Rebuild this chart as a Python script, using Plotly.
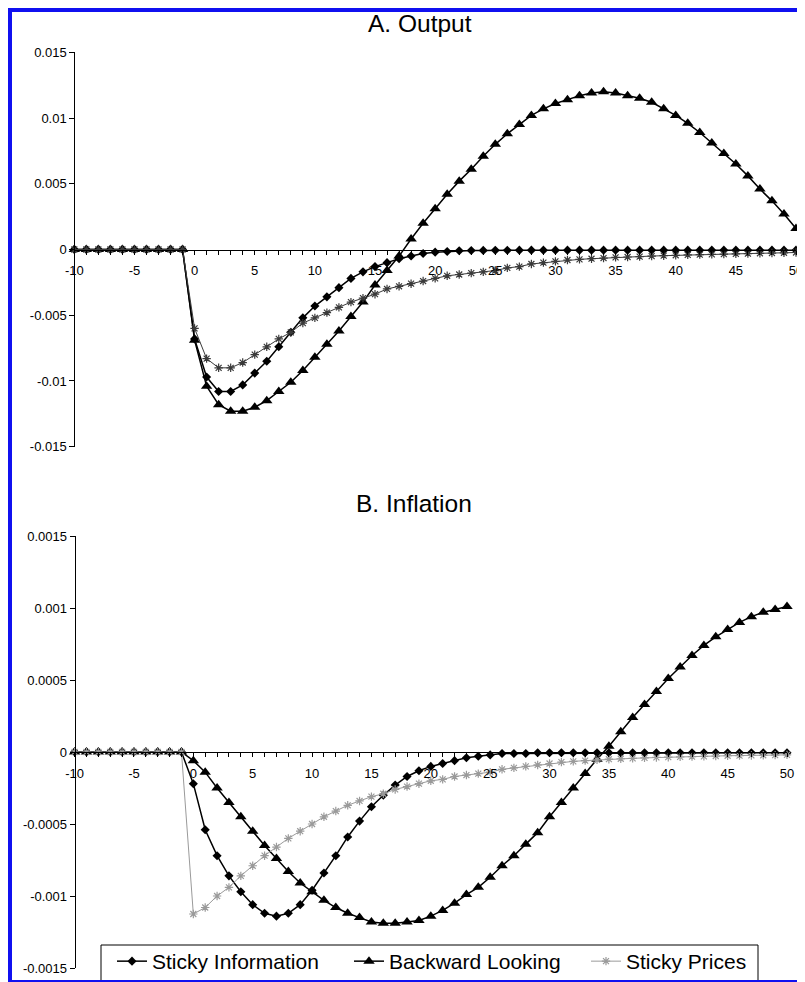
import plotly.graph_objects as go

# ---------------- data ----------------
periods = list(range(-10, 51))
pre_shock = [0.0] * 10

output_sticky_info = pre_shock + [
    -0.0068, -0.0097, -0.0108, -0.0108, -0.0103, -0.0094, -0.0085, -0.0074, -0.0063, -0.0052,
    -0.0043, -0.0036, -0.0029, -0.0022, -0.0017, -0.0013, -0.0010, -0.0007, -0.0005, -0.0003,
    -0.0002, -0.00015, -0.0001, -0.00008, -0.00007, -0.00006, -0.00006, -0.00005, -0.00005, -0.00005,
    -0.00005, -0.00005, -0.00005, -0.00005, -0.00005, -0.00005, -0.00005, -0.00005, -0.00005, -0.00005,
    -0.00005, -0.00005, -0.00005, -0.00005, -0.00005, -0.00005, -0.00005, -0.00005, -0.00005, -0.00005,
    -0.00005]

output_backward = pre_shock + [
    -0.0069, -0.0104, -0.0118, -0.0123, -0.0123, -0.0120, -0.0115, -0.0108, -0.0101, -0.0092,
    -0.0082, -0.0072, -0.0062, -0.0051, -0.0040, -0.0027, -0.0016, -0.0005, 0.0008, 0.0020,
    0.0031, 0.0042, 0.0052, 0.0061, 0.0071, 0.0080, 0.0088, 0.0095, 0.0102, 0.0107,
    0.0111, 0.0114, 0.0117, 0.0119, 0.0120, 0.0119, 0.0117, 0.0115, 0.0112, 0.0107,
    0.0102, 0.0096, 0.0089, 0.0081, 0.0073, 0.0065, 0.0056, 0.0046, 0.0037, 0.0027,
    0.0016]

output_sticky_prices = pre_shock + [
    -0.0060, -0.0083, -0.0090, -0.0090, -0.0086, -0.0080, -0.0074, -0.0068, -0.0063, -0.0056,
    -0.0052, -0.0048, -0.0044, -0.0040, -0.0037, -0.0034, -0.0030, -0.0028, -0.0026, -0.0024,
    -0.0022, -0.0020, -0.0019, -0.0018, -0.0017, -0.0016, -0.0014, -0.0013, -0.0011, -0.0010,
    -0.0009, -0.0008, -0.00075, -0.0007, -0.00065, -0.0006, -0.00057, -0.00054, -0.0005, -0.00047,
    -0.00044, -0.00041, -0.00039, -0.00037, -0.00035, -0.00033, -0.00031, -0.00029, -0.00027, -0.00025,
    -0.00023]

inflation_sticky_info = pre_shock + [
    -0.00022, -0.00054, -0.00072, -0.00086, -0.00097, -0.00106, -0.00112, -0.00114, -0.00112, -0.00106,
    -0.00096, -0.00084, -0.00072, -0.00059, -0.00048, -0.00038, -0.00030, -0.00023, -0.00017, -0.00013,
    -0.00010, -0.00008, -0.00006, -0.00004, -0.00003, -0.00002, -0.00001, -0.00001, -0.00001, -0.000005,
    -0.000005, -0.000005, -0.000005, -0.000005, -0.000005, -0.000005, -0.000005, -0.000005, -0.000005, -0.000005,
    -0.000005, -0.000005, -0.000005, -0.000005, -0.000005, -0.000005, -0.000005, -0.000005, -0.000005, -0.000005,
    -0.000005]

inflation_backward = pre_shock + [
    -0.00006, -0.00014, -0.00025, -0.00035, -0.00045, -0.00055, -0.00065, -0.00074, -0.00083, -0.00091,
    -0.00097, -0.00103, -0.00108, -0.00112, -0.00115, -0.00118, -0.00119, -0.00119, -0.00118, -0.00117,
    -0.00114, -0.00110, -0.00105, -0.00099, -0.00094, -0.00087, -0.00079, -0.00072, -0.00064, -0.00056,
    -0.00045, -0.00035, -0.00025, -0.00015, -0.00005, 0.00004, 0.00014, 0.00024, 0.00033, 0.00042,
    0.00051, 0.00059, 0.00067, 0.00074, 0.00080, 0.00085, 0.00090, 0.00094, 0.00097, 0.00099,
    0.00101]

inflation_sticky_prices = pre_shock + [
    -0.001125, -0.00108, -0.00100, -0.00094, -0.00086, -0.00079, -0.00072, -0.00066, -0.00060, -0.00055,
    -0.00050, -0.00045, -0.00041, -0.00037, -0.00034, -0.00031, -0.00029, -0.00026, -0.00024, -0.00022,
    -0.00020, -0.00019, -0.00017, -0.00016, -0.00015, -0.00014, -0.00012, -0.00011, -0.00010, -0.00009,
    -0.00008, -0.00007, -0.000065, -0.00006, -0.000055, -0.00005, -0.000047, -0.000044, -0.000041, -0.000038,
    -0.000036, -0.000034, -0.000032, -0.00003, -0.000028, -0.000026, -0.000025, -0.000024, -0.000023, -0.000022,
    -0.00002]

series_names = ["Sticky Information", "Backward Looking", "Sticky Prices"]
panel_titles = ["A. Output", "B. Inflation"]

x_tickvals = list(range(-10, 51))
x_ticktext = [str(v) if v % 5 == 0 else "" for v in x_tickvals]
yA_tickvals = [-0.015, -0.01, -0.005, 0, 0.005, 0.01, 0.015]
yA_ticktext = ["-0.015", "-0.01", "-0.005", "0", "0.005", "0.01", "0.015"]
yB_tickvals = [-0.0015, -0.001, -0.0005, 0, 0.0005, 0.001, 0.0015]
yB_ticktext = ["-0.0015", "-0.001", "-0.0005", "0", "0.0005", "0.001", "0.0015"]

# ---------------- layout geometry ----------------
# The page body keeps its default 8px margin; positions below are page pixels.
OFF = 8
W, H = 805 - OFF, 982 - OFF
FONT = "Liberation Sans, Arial, sans-serif"
BLUE = "#1010F0"

def px_x(p):
    return (p - OFF) / W

def px_y(p):
    return 1 - (p - OFF) / H

A_x = [px_x(74.3), px_x(796)]
A_y = [px_y(446.7), px_y(52.3)]
B_x = [px_x(74.6), px_x(787)]
B_y = [px_y(968), px_y(536)]

fig = go.Figure()

def add_panel(xa, ya, si, bl, sp, sp_color, sp_marker_color, show):
    fig.add_trace(go.Scatter(
        x=periods, y=si, name=series_names[0], mode="lines+markers",
        xaxis=xa, yaxis=ya, cliponaxis=False, showlegend=show, legendwidth=192,
        line=dict(color="black", width=1.5),
        marker=dict(symbol="diamond", size=7, color="black")))
    fig.add_trace(go.Scatter(
        x=periods, y=bl, name=series_names[1], mode="lines+markers",
        xaxis=xa, yaxis=ya, cliponaxis=False, showlegend=show, legendwidth=192,
        line=dict(color="black", width=1.5),
        marker=dict(symbol="triangle-up", size=10, color="black")))
    fig.add_trace(go.Scatter(
        x=periods, y=sp, name=series_names[2], mode="lines+markers",
        xaxis=xa, yaxis=ya, cliponaxis=False, showlegend=show, legendwidth=125,
        line=dict(color=sp_color, width=1),
        marker=dict(symbol="asterisk-open", size=7,
                    line=dict(color=sp_marker_color, width=1.2))))

add_panel("x", "y", output_sticky_info, output_backward, output_sticky_prices,
          "#3a3a3a", "#333333", False)
add_panel("x2", "y2", inflation_sticky_info, inflation_backward, inflation_sticky_prices,
          "#9a9a9a", "#6a6a6a", True)

xaxis_common = dict(
    range=[-10, 50], tickvals=x_tickvals, ticktext=x_ticktext,
    showline=True, linecolor="black", linewidth=1,
    ticks="outside", ticklen=4, tickcolor="black", tickwidth=1,
    showgrid=False, zeroline=False, anchor="free", automargin=False,
    tickfont=dict(family=FONT, size=13, color="black"),
    ticklabelstandoff=5,
)
yaxis_common = dict(
    showline=True, linecolor="black", linewidth=1,
    ticks="outside", ticklen=5, tickcolor="black", tickwidth=1,
    showgrid=False, zeroline=False, anchor="free", automargin=False,
    tickfont=dict(family=FONT, size=13, color="black"),
)

fig.update_layout(
    width=W, height=H,
    margin=dict(l=0, r=0, t=0, b=0, pad=0, autoexpand=False),
    paper_bgcolor="white", plot_bgcolor="white",
    font=dict(family=FONT, color="black"),
    xaxis=dict(domain=A_x, position=(A_y[0] + A_y[1]) / 2, **xaxis_common),
    yaxis=dict(domain=A_y, range=[-0.015, 0.015], tickvals=yA_tickvals,
               ticktext=yA_ticktext, position=A_x[0], **yaxis_common),
    xaxis2=dict(domain=B_x, position=(B_y[0] + B_y[1]) / 2, **xaxis_common),
    yaxis2=dict(domain=B_y, range=[-0.0015, 0.0015], tickvals=yB_tickvals,
                ticktext=yB_ticktext, position=B_x[0], **yaxis_common),
    legend=dict(
        orientation="h", x=px_x(112), xanchor="left", y=px_y(941), yanchor="top",
        bgcolor="rgba(0,0,0,0)", borderwidth=0,
        font=dict(family=FONT, size=21, color="black"),
    ),
    annotations=[
        dict(text=panel_titles[0], x=px_x(420), y=px_y(23), xref="paper", yref="paper",
             showarrow=False, font=dict(family=FONT, size=24.5, color="black"),
             xanchor="center", yanchor="middle"),
        dict(text=panel_titles[1], x=px_x(414), y=px_y(503), xref="paper", yref="paper",
             showarrow=False, font=dict(family=FONT, size=24.5, color="black"),
             xanchor="center", yanchor="middle"),
    ],
    shapes=[
        # legend frame
        dict(type="rect", xref="paper", yref="paper", layer="above",
             x0=px_x(101), x1=px_x(758), y0=px_y(995), y1=px_y(945),
             fillcolor="white", line=dict(color="black", width=1)),
        # blue page border (top, left, bottom)
        dict(type="rect", xref="paper", yref="paper", layer="above",
             x0=0, x1=1.0, y0=px_y(12), y1=1.0,
             fillcolor=BLUE, line=dict(width=0)),
        dict(type="rect", xref="paper", yref="paper", layer="above",
             x0=0, x1=px_x(12), y0=0.0, y1=1.0,
             fillcolor=BLUE, line=dict(width=0)),
        dict(type="rect", xref="paper", yref="paper", layer="above",
             x0=0, x1=1.0, y0=0.0, y1=px_y(980),
             fillcolor=BLUE, line=dict(width=0)),
    ],
)

fig.write_html("out.html", config={"displayModeBar": False})
